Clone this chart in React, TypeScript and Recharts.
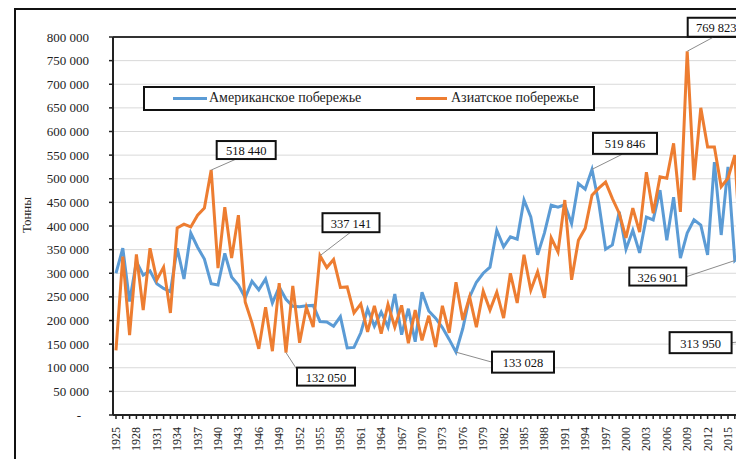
import React from "react";
import { CartesianGrid, Line, LineChart, ReferenceDot, ReferenceLine, XAxis, YAxis } from "recharts";

const FIRST_YEAR = 1925;

// Американское побережье (тонны)
const american = [
  300000, 353000, 240000, 325000, 296000, 305000, 278000, 268000, 261000, 353000,
  288000, 385000, 355000, 330000, 278000, 275000, 342000, 292000, 275000, 248000,
  283000, 265000, 288000, 237000, 271000, 245000, 230000, 229000, 231000, 232000,
  198000, 197000, 188000, 208000, 142000, 143000, 174000, 224000, 188000, 218000,
  186000, 256000, 170000, 225000, 155000, 260000, 220000, 205000, 185000, 160000,
  133028, 183000, 250000, 281000, 300000, 313000, 391000, 356000, 377000, 372000,
  455000, 419000, 339000, 385000, 444000, 440000, 445000, 405000, 490000, 478000,
  519846, 448000, 351000, 360000, 430000, 351000, 391000, 343000, 419000, 413000,
  476000, 370000, 461000, 332000, 385000, 413000, 402000, 339000, 535000, 381000,
  525000, 326901, 340000,
];

// Азиатское побережье (тонны)
const asian = [
  137000, 335000, 169000, 340000, 222000, 353000, 286000, 313000, 216000, 396000,
  404000, 398000, 423000, 438000, 518440, 311000, 440000, 332000, 423000, 239000,
  195000, 140000, 228000, 135000, 279000, 132050, 273000, 153000, 228000, 186000,
  337141, 312000, 329000, 270000, 271000, 216000, 235000, 176000, 231000, 172000,
  234000, 186000, 232000, 152000, 222000, 158000, 210000, 144000, 231000, 174000,
  281000, 201000, 250000, 186000, 262000, 222000, 260000, 205000, 300000, 237000,
  339000, 264000, 303000, 248000, 375000, 345000, 455000, 286000, 370000, 395000,
  465000, 480000, 493000, 458000, 427000, 375000, 438000, 387000, 514000, 427000,
  504000, 501000, 575000, 430000, 769823, 497000, 650000, 567000, 567000, 483000,
  501000, 550000, 313950,
];

const years = american.map((_, i) => FIRST_YEAR + i);

const yTicks = [
  0, 50000, 100000, 150000, 200000, 250000, 300000, 350000, 400000,
  450000, 500000, 550000, 600000, 650000, 700000, 750000, 800000,
];

// annotated points
const callouts = [
  { year: 1939, value: 518440 },
  { year: 1950, value: 132050 },
  { year: 1955, value: 337141 },
  { year: 1975, value: 133028 },
  { year: 1995, value: 519846 },
  { year: 2009, value: 769823 },
  { year: 2016, value: 326901 },
  { year: 2017, value: 313950 },
];

// box placement relative to the point (px)
const calloutLayout = [
  { dx: 35, dy: -20, w: 59, h: 18, lx: 25, ly: -11 },
  { dx: 40, dy: 24, w: 58, h: 18, lx: 11, ly: 17 },
  { dx: 31, dy: -33, w: 57, h: 19, lx: 30, ly: -23 },
  { dx: 67, dy: 10, w: 62, h: 21, lx: 36, ly: 10 },
  { dx: 33, dy: -26, w: 64, h: 21, lx: 30, ly: -15 },
  { dx: 29, dy: -24, w: 57, h: 19, lx: 26, ly: -14 },
  { dx: -77, dy: 16, w: 57, h: 18, lx: -48, ly: 16 },
  { dx: -41, dy: 76, w: 62, h: 21, lx: 0, ly: 0, stub: true },
];

const BLUE = "#5b9bd5";
const ORANGE = "#ed7d31";
const SERIF = "'Liberation Serif', 'Times New Roman', serif";

const data = years.map((year, i) => ({ year, american: american[i], asian: asian[i] }));

function fmt(v: number) {
  return String(v).replace(/\B(?=(\d{3})+(?!\d))/g, " ");
}

function YTick({ x, y, payload }: any) {
  const v = payload.value as number;
  return (
    <text x={v === 0 ? x - 8 : x} y={y} textAnchor="end" dominantBaseline="central" fontFamily={SERIF} fontSize={13} fill="#222">
      {v === 0 ? "-" : fmt(v)}
    </text>
  );
}

function XTick({ x, y, payload }: any) {
  const v = payload.value as number;
  if ((v - FIRST_YEAR) % 3 !== 0) return <g />;
  return (
    <text x={x} y={y} transform={`rotate(-90 ${x} ${y})`} textAnchor="end" dominantBaseline="central" fontFamily={SERIF} fontSize={12} fill="#222">
      {v}
    </text>
  );
}

function Callout({ cx, cy, text, layout }: any) {
  const { dx, dy, w, h, lx, ly, stub } = layout;
  const bx = cx + dx - w / 2;
  const by = cy + dy - h / 2;
  return (
    <g>
      {stub ? (
        <line x1={bx + w} y1={cy + dy} x2={bx + w + 20} y2={cy + dy - 2} stroke="#8c8c8c" strokeWidth={1} />
      ) : (
        <line x1={cx} y1={cy} x2={cx + lx} y2={cy + ly} stroke="#8c8c8c" strokeWidth={1} />
      )}
      <rect x={bx} y={by} width={w} height={h} fill="#fff" stroke="#111" strokeWidth={2} />
      <text x={cx + dx} y={cy + dy + 1} textAnchor="middle" dominantBaseline="central" fontFamily={SERIF} fontSize={12.5} fill="#111">
        {text}
      </text>
    </g>
  );
}

export default function App() {
  return (
    <div style={{ position: "absolute", left: 0, top: 0, width: 736, height: 459, overflow: "hidden", background: "#fff" }}>
      <div style={{ position: "absolute", left: 14, top: 8, width: 820, height: 520, border: "2px solid #111" }} />
      <div style={{ position: "absolute", left: 0, top: 0 }}>
        <LineChart width={800} height={520} data={data} margin={{ top: 37, right: 55, bottom: 55, left: 0 }}>
          <CartesianGrid vertical={false} stroke="#d9d9d9" strokeWidth={1} />
          <XAxis
            type="number"
            dataKey="year"
            domain={[1924.56, 2017.5]}
            allowDataOverflow
            ticks={years}
            interval={0}
            height={50}
            tickSize={4}
            tickMargin={8}
            axisLine={{ stroke: "#222", strokeWidth: 2 }}
            tickLine={{ stroke: "#222", strokeWidth: 1.5 }}
            tick={<XTick />}
          />
          <YAxis
            domain={[0, 800000]}
            ticks={yTicks}
            interval={0}
            width={113}
            tickSize={4}
            tickMargin={20}
            axisLine={{ stroke: "#222", strokeWidth: 2 }}
            tickLine={{ stroke: "#222", strokeWidth: 1.5 }}
            tick={<YTick />}
            label={{
              content: () => (
                <text x={26} y={215} transform="rotate(-90 26 215)" textAnchor="middle" dominantBaseline="central" fontFamily={SERIF} fontSize={13} fill="#222">
                  Тонны
                </text>
              ),
            }}
          />
          <ReferenceLine y={800000} stroke="#333" strokeWidth={2} />
          <Line type="linear" dataKey="american" stroke={BLUE} strokeWidth={3} dot={false} isAnimationActive={false} />
          <Line type="linear" dataKey="asian" stroke={ORANGE} strokeWidth={3} dot={false} isAnimationActive={false} />
          {callouts.map((c, i) => (
            <ReferenceDot
              key={c.year + "-" + c.value}
              x={c.year}
              y={c.value}
              r={1}
              ifOverflow="visible"
              shape={(p: any) => <Callout cx={p.cx} cy={p.cy} text={fmt(c.value)} layout={calloutLayout[i]} />}
            />
          ))}
        </LineChart>
      </div>
      <div
        style={{
          position: "absolute",
          left: 143,
          top: 86,
          width: 452,
          height: 25,
          boxSizing: "border-box",
          border: "2px solid #111",
          background: "#fff",
          fontFamily: SERIF,
          fontSize: 14,
          color: "#222",
        }}
      >
        <div style={{ position: "absolute", left: 28, top: 9, width: 34, height: 3, background: BLUE }} />
        <div style={{ position: "absolute", left: 64, top: 2, whiteSpace: "nowrap" }}>Американское побережье</div>
        <div style={{ position: "absolute", left: 271, top: 9, width: 31, height: 3, background: ORANGE }} />
        <div style={{ position: "absolute", left: 306, top: 2, whiteSpace: "nowrap" }}>Азиатское побережье</div>
      </div>
    </div>
  );
}
